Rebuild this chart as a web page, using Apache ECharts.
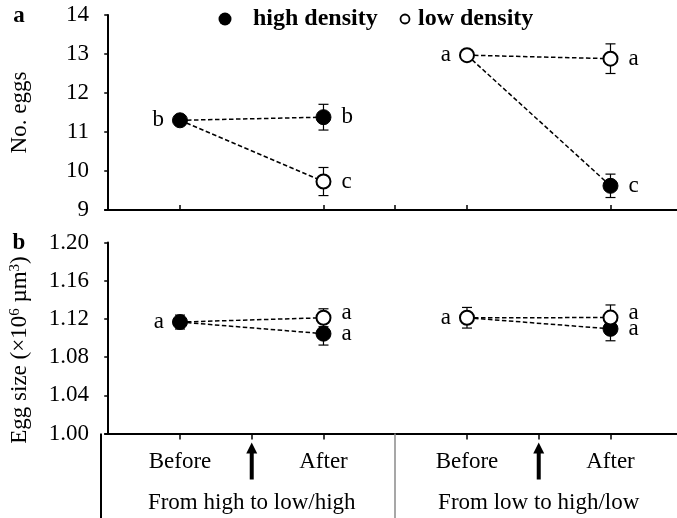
<!DOCTYPE html>
<html>
<head>
<meta charset="utf-8">
<script src="https://cdn.jsdelivr.net/npm/echarts@6/dist/echarts.min.js"></script>
<style>html,body{margin:0;padding:0;background:#fff}#c{width:677px;height:518px}</style>
</head>
<body>
<div id="c"></div>
<script>
// ---- data ----
const categories = ['Before', 'After', 'Before', 'After'];
const categoryPos = [1, 3, 5, 7];
const groups = ['From high to low/high', 'From low to high/low'];
const groupPos = [2, 6];
const arrowPos = [2, 6];
const beforeFilled = [true, false];

// Panel a: No. eggs (group1, group2)
const eggsBefore = [11.30, 12.97];
const eggsBeforeErr = [0.12, 0.10];
const eggsAfterHigh = [11.38, 9.62];
const eggsAfterHighErr = [0.33, 0.30];
const eggsAfterLow = [9.73, 12.88];
const eggsAfterLowErr = [0.36, 0.38];
const eggsLettersBefore = ['b', 'a'];
const eggsLettersHigh = ['b', 'c'];
const eggsLettersLow = ['c', 'a'];

// Panel b: Egg size
const sizeBefore = [1.1167, 1.1212];
const sizeBeforeErr = [0.0073, 0.0108];
const sizeAfterHigh = [1.1045, 1.1096];
const sizeAfterHighErr = [0.0119, 0.0125];
const sizeAfterLow = [1.1212, 1.1214];
const sizeAfterLowErr = [0.0094, 0.0132];
const sizeLettersBefore = ['a', 'a'];
const sizeLettersHigh = ['a', 'a'];
const sizeLettersLow = ['a', 'a'];

const eggTicks = [9, 10, 11, 12, 13, 14];
const sizeTicks = [1.00, 1.04, 1.08, 1.12, 1.16, 1.20];

// ---- styling ----
const FONT = '"Liberation Serif", "Times New Roman", serif';
const FS = 23;
const XMIN = -0.045, XMAX = 7.927;

function errRender(params, api) {
  const x = api.value(0), y = api.value(1), e = api.value(2);
  const t = api.coord([x, y + e]), b = api.coord([x, y - e]);
  const hw = 5;
  const st = { stroke: '#000', lineWidth: 1.2 };
  return {
    type: 'group', children: [
      { type: 'line', shape: { x1: t[0], y1: t[1], x2: b[0], y2: b[1] }, style: st },
      { type: 'line', shape: { x1: t[0] - hw, y1: t[1], x2: t[0] + hw, y2: t[1] }, style: st },
      { type: 'line', shape: { x1: b[0] - hw, y1: b[1], x2: b[0] + hw, y2: b[1] }, style: st }
    ]
  };
}

function lbl(text, pos, dy) {
  return {
    show: true, formatter: text, position: pos, distance: pos === 'left' ? 8 : 10,
    offset: [0, dy || 0], color: '#000', fontFamily: FONT, fontSize: FS
  };
}

function panelSeries(gi, before, beforeErr, aHigh, aHighErr, aLow, aLowErr, lB, lH, lL, lowDy) {
  const s = [];
  const axes = { xAxisIndex: gi, yAxisIndex: gi };
  for (let g = 0; g < 2; g++) {
    const bx = categoryPos[2 * g], ax = categoryPos[2 * g + 1];
    [aHigh[g], aLow[g]].forEach(v => {
      s.push(Object.assign({
        type: 'line', data: [[bx, before[g]], [ax, v]], symbol: 'none', z: 2,
        lineStyle: { color: '#000', width: 1.5, type: [4.5, 2.5] }, silent: true
      }, axes));
    });
  }
  const errData = [];
  for (let g = 0; g < 2; g++) {
    const bx = categoryPos[2 * g], ax = categoryPos[2 * g + 1];
    errData.push([bx, before[g], beforeErr[g]]);
    errData.push([ax, aHigh[g], aHighErr[g]]);
    errData.push([ax, aLow[g], aLowErr[g]]);
  }
  s.push(Object.assign({ type: 'custom', renderItem: errRender, data: errData, encode: { x: 0, y: 1 }, z: 3, silent: true }, axes));

  const filled = [], open = [];
  for (let g = 0; g < 2; g++) {
    const bx = categoryPos[2 * g], ax = categoryPos[2 * g + 1];
    const bItem = { value: [bx, before[g]], label: lbl(lB[g], 'left') };
    (beforeFilled[g] ? filled : open).push(bItem);
    filled.push({ value: [ax, aHigh[g]], label: lbl(lH[g], 'right') });
    open.push({ value: [ax, aLow[g]], label: lbl(lL[g], 'right', lowDy) });
  }
  s.push(Object.assign({
    type: 'scatter', name: 'high density', data: filled, symbol: 'circle', symbolSize: 15, z: 4,
    itemStyle: { color: '#000', borderColor: '#000', borderWidth: 1, opacity: 1 }
  }, axes));
  s.push(Object.assign({
    type: 'scatter', name: 'low density', data: open, symbol: 'circle', symbolSize: 14, z: 5,
    itemStyle: { color: '#fff', borderColor: '#000', borderWidth: 2, opacity: 1 }
  }, axes));
  return s;
}

const series = [].concat(
  panelSeries(0, eggsBefore, eggsBeforeErr, eggsAfterHigh, eggsAfterHighErr, eggsAfterLow, eggsAfterLowErr,
    eggsLettersBefore, eggsLettersHigh, eggsLettersLow, 0),
  panelSeries(1, sizeBefore, sizeBeforeErr, sizeAfterHigh, sizeAfterHighErr, sizeAfterLow, sizeAfterLowErr,
    sizeLettersBefore, sizeLettersHigh, sizeLettersLow, -5)
);

// arrows below panel b axis
series.push({
  type: 'custom', xAxisIndex: 1, yAxisIndex: 1, clip: false, silent: true, z: 6,
  data: arrowPos.map(x => [x, sizeTicks[0]]), encode: { x: 0, y: 1 },
  renderItem: function (params, api) {
    const p = api.coord([api.value(0), api.value(1)]);
    const x = p[0], top = p[1] + 9, bot = p[1] + 46, hw = 5.5, hh = 11, sw = 2;
    return {
      type: 'polygon',
      shape: { points: [[x, top], [x + hw, top + hh], [x + sw, top + hh], [x + sw, bot], [x - sw, bot], [x - sw, top + hh], [x - hw, top + hh]] },
      style: { fill: '#000' }
    };
  }
});

const axisLine = { show: true, lineStyle: { color: '#000', width: 2 } };
const labelStyle = { color: '#000', fontFamily: FONT, fontSize: FS };

const option = {
  animation: false,
  backgroundColor: '#fff',
  grid: [
    { left: 101, right: 0, top: 15, height: 195 },
    { left: 101, right: 0, top: 242.5, height: 191 }
  ],
  xAxis: [
    {
      type: 'value', gridIndex: 0, position: 'bottom', min: XMIN, max: XMAX, axisLine: axisLine, splitLine: { show: false },
      axisTick: { show: true, inside: true, length: 5, customValues: [1, 3, 4, 5, 7], lineStyle: { color: '#000', width: 1.5 } },
      axisLabel: { show: false }
    },
    {
      type: 'value', gridIndex: 1, position: 'bottom', offset: 0, min: XMIN, max: XMAX, axisLine: axisLine, splitLine: { show: false },
      axisTick: { show: true, inside: false, length: 6, customValues: [1, 2, 3, 5, 6, 7], lineStyle: { color: '#000', width: 1.5 } },
      axisLabel: Object.assign({
        show: true, margin: 17, customValues: categoryPos,
        formatter: v => categories[categoryPos.indexOf(Math.round(v))] || ''
      }, labelStyle)
    },
    {
      type: 'value', gridIndex: 1, position: 'bottom', offset: 0, min: XMIN, max: XMAX, axisLine: { show: false }, splitLine: { show: false },
      axisTick: { show: true, inside: false, length: 85, customValues: [4], lineStyle: { color: '#8a8a8a', width: 1.5 } },
      axisLabel: Object.assign({
        show: true, margin: 58, customValues: groupPos,
        formatter: v => groups[groupPos.indexOf(Math.round(v))] || ''
      }, labelStyle)
    }
  ],
  yAxis: [
    {
      type: 'value', gridIndex: 0, min: eggTicks[0], max: eggTicks[eggTicks.length - 1], interval: 1,
      axisLine: axisLine, splitLine: { show: false },
      axisTick: { show: true, length: 4, lineStyle: { color: '#000', width: 1.5 } },
      axisLabel: Object.assign({ margin: 16 }, labelStyle),
      name: 'No. eggs', nameLocation: 'middle', nameGap: 74, nameRotate: 90,
      nameTextStyle: { color: '#000', fontFamily: FONT, fontSize: FS }
    },
    {
      type: 'value', gridIndex: 1, min: sizeTicks[0], max: sizeTicks[sizeTicks.length - 1], interval: 0.04,
      axisLine: axisLine, splitLine: { show: false },
      axisTick: { show: true, length: 4, lineStyle: { color: '#000', width: 1.5 } },
      axisLabel: Object.assign({ margin: 16, formatter: v => v.toFixed(2) }, labelStyle),
      name: 'Egg size (×10{sup|6} µm{sup|3})', nameLocation: 'middle', nameGap: 74, nameRotate: 90,
      nameTextStyle: {
        color: '#000', fontFamily: FONT, fontSize: FS, padding: [0, 24, 0, 0],
        rich: { sup: { fontSize: 15, fontFamily: FONT, color: '#000', verticalAlign: 'top', lineHeight: 23 } }
      }
    }
  ],
  graphic: [
    { type: 'text', x: 19, y: 16, style: { text: 'a', fontFamily: FONT, fontSize: FS, fontWeight: 'bold', fill: '#000', textAlign: 'center', textVerticalAlign: 'middle', align: 'center', verticalAlign: 'middle' } },
    { type: 'text', x: 19, y: 243, style: { text: 'b', fontFamily: FONT, fontSize: FS, fontWeight: 'bold', fill: '#000', textAlign: 'center', textVerticalAlign: 'middle', align: 'center', verticalAlign: 'middle' } },
    { type: 'circle', shape: { cx: 225, cy: 19, r: 6.5 }, style: { fill: '#000' } },
    { type: 'text', x: 253, y: 19, style: { text: 'high density', fontFamily: FONT, fontSize: 24, fontWeight: 'bold', fill: '#000', textAlign: 'left', textVerticalAlign: 'middle', align: 'left', verticalAlign: 'middle' } },
    { type: 'circle', shape: { cx: 405, cy: 19, r: 4.5 }, style: { fill: '#fff', stroke: '#000', lineWidth: 1.8 } },
    { type: 'text', x: 418, y: 19, style: { text: 'low density', fontFamily: FONT, fontSize: 24, fontWeight: 'bold', fill: '#000', textAlign: 'left', textVerticalAlign: 'middle', align: 'left', verticalAlign: 'middle' } },
    { type: 'line', shape: { x1: 101, y1: 433.5, x2: 101, y2: 518 }, style: { stroke: '#000', lineWidth: 2 } }
  ],
  series: series
};

const chart = echarts.init(document.getElementById('c'), null, { renderer: 'canvas' });
chart.setOption(option);
</script>
</body>
</html>
